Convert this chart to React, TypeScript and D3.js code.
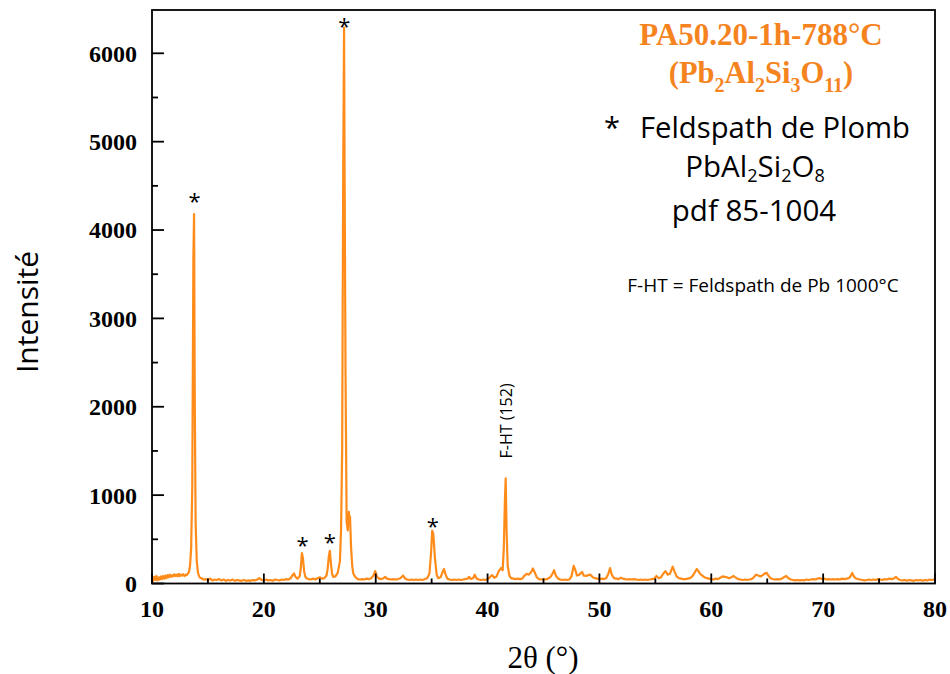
import React from "react";
import * as d3 from "d3";

const twoTheta: number[] = [
  10.0, 10.1, 10.2, 10.3, 10.4, 10.5, 10.6, 10.7, 10.8, 10.9, 11.0, 11.1, 11.2, 11.3, 11.4, 11.5, 11.6, 11.7, 11.8, 11.9,
  12.0, 12.1, 12.2, 12.3, 12.4, 12.5, 12.6, 12.7, 12.8, 12.9, 13.0, 13.1, 13.2, 13.3, 13.4, 13.5, 13.6, 13.7, 13.76, 13.82,
  13.9, 14.0, 14.1, 14.2, 14.3, 14.5, 14.6, 14.8, 15.0, 15.2, 15.4, 15.6, 15.8, 16.0, 16.2, 16.4, 16.6, 16.8, 17.0, 17.2,
  17.4, 17.6, 17.8, 18.0, 18.2, 18.4, 18.6, 18.8, 19.0, 19.2, 19.4, 19.6, 19.8, 20.0, 20.2, 20.4, 20.6, 20.8, 21.0, 21.2,
  21.4, 21.6, 21.8, 22.0, 22.2, 22.4, 22.6, 22.7, 22.8, 23.0, 23.2, 23.3, 23.4, 23.5, 23.6, 23.7, 23.8, 24.0, 24.2, 24.4,
  24.6, 24.8, 25.0, 25.2, 25.4, 25.6, 25.7, 25.8, 25.9, 26.0, 26.1, 26.2, 26.4, 26.6, 26.8, 26.9, 27.0, 27.05, 27.1, 27.17,
  27.22, 27.3, 27.4, 27.5, 27.6, 27.65, 27.7, 27.8, 27.9, 28.0, 28.2, 28.4, 28.6, 28.8, 29.0, 29.2, 29.4, 29.6, 29.8, 29.95,
  30.1, 30.3, 30.5, 30.7, 30.85, 31.0, 31.2, 31.4, 31.6, 31.8, 32.0, 32.2, 32.45, 32.6, 32.8, 33.0, 33.2, 33.4, 33.6, 33.8,
  34.0, 34.2, 34.4, 34.6, 34.8, 34.95, 35.05, 35.15, 35.3, 35.45, 35.6, 35.8, 35.95, 36.1, 36.25, 36.4, 36.6, 36.8, 37.0, 37.2,
  37.4, 37.6, 37.8, 38.0, 38.2, 38.35, 38.5, 38.7, 38.85, 39.0, 39.2, 39.4, 39.6, 39.8, 40.0, 40.2, 40.4, 40.6, 40.8, 41.0,
  41.2, 41.35, 41.45, 41.55, 41.62, 41.7, 41.8, 41.95, 42.1, 42.3, 42.5, 42.7, 42.9, 43.1, 43.3, 43.5, 43.7, 43.9, 44.05, 44.2,
  44.4, 44.6, 44.8, 45.0, 45.2, 45.4, 45.6, 45.8, 45.95, 46.1, 46.3, 46.5, 46.7, 46.9, 47.1, 47.3, 47.5, 47.7, 47.85, 48.0,
  48.2, 48.45, 48.6, 48.8, 49.0, 49.2, 49.4, 49.6, 49.8, 50.0, 50.2, 50.4, 50.6, 50.8, 50.95, 51.1, 51.3, 51.5, 51.7, 51.9,
  52.1, 52.3, 52.5, 52.7, 52.9, 53.1, 53.3, 53.5, 53.7, 53.9, 54.1, 54.3, 54.5, 54.7, 54.9, 55.1, 55.3, 55.5, 55.7, 55.9,
  56.1, 56.3, 56.55, 56.7, 56.9, 57.1, 57.3, 57.5, 57.7, 57.9, 58.1, 58.3, 58.5, 58.7, 58.85, 59.0, 59.2, 59.4, 59.6, 59.8,
  60.0, 60.2, 60.4, 60.6, 60.8, 61.0, 61.2, 61.4, 61.6, 61.8, 62.0, 62.2, 62.4, 62.6, 62.8, 63.0, 63.2, 63.4, 63.6, 63.8,
  64.0, 64.2, 64.4, 64.6, 64.8, 64.95, 65.1, 65.3, 65.5, 65.7, 65.9, 66.1, 66.3, 66.5, 66.7, 66.9, 67.1, 67.3, 67.5, 67.7,
  67.9, 68.1, 68.3, 68.5, 68.7, 68.9, 69.1, 69.3, 69.5, 69.7, 69.9, 70.1, 70.3, 70.5, 70.7, 70.9, 71.1, 71.3, 71.5, 71.7,
  71.9, 72.1, 72.3, 72.5, 72.6, 72.75, 72.9, 73.1, 73.3, 73.5, 73.7, 73.9, 74.1, 74.3, 74.5, 74.7, 74.9, 75.1, 75.3, 75.5,
  75.7, 75.9, 76.1, 76.3, 76.5, 76.7, 76.9, 77.1, 77.3, 77.5, 77.7, 77.9, 78.1, 78.3, 78.5, 78.7, 78.9, 79.1, 79.3, 79.5,
  79.7, 79.9, 80.0,
];

const intensity: number[] = [
  60, 30, 75, 40, 85, 35, 70, 45, 80, 50, 85, 55, 90, 60, 95, 70, 100, 75, 95, 80,
  105, 85, 100, 80, 110, 85, 100, 90, 105, 85, 100, 95, 110, 130, 200, 400, 1100, 3680, 4180, 2150,
  690, 260, 130, 85, 65, 55, 45, 50, 40, 55, 35, 45, 40, 50, 35, 45, 30, 40, 35, 45,
  30, 40, 35, 30, 40, 30, 35, 30, 40, 35, 45, 60, 40, 35, 45, 35, 40, 30, 45, 40,
  35, 45, 40, 50, 45, 60, 100, 115, 80, 55, 80, 170, 345, 280, 140, 80, 60, 50, 45, 55,
  45, 60, 70, 55, 60, 90, 160, 300, 370, 220, 110, 75, 80, 120, 250, 600, 1500, 3210, 4790, 6290,
  4600, 2400, 700, 600, 810, 700, 760, 400, 200, 110, 70, 50, 45, 50, 45, 55, 50, 60, 90, 140,
  80, 55, 50, 60, 75, 55, 50, 45, 50, 45, 50, 60, 90, 60, 45, 40, 45, 40, 45, 40,
  45, 40, 50, 60, 110, 350, 600, 560, 280, 100, 60, 70, 120, 165, 100, 55, 45, 40, 45, 40,
  45, 40, 45, 50, 55, 75, 50, 60, 100, 60, 45, 40, 45, 40, 50, 70, 95, 65, 80, 140,
  175, 150, 400, 945, 1190, 600, 200, 90, 60, 55, 50, 55, 50, 55, 90, 110, 100, 130, 170, 130,
  70, 50, 45, 50, 45, 55, 70, 110, 150, 90, 55, 45, 40, 45, 40, 45, 80, 200, 150, 90,
  100, 130, 90, 85, 95, 100, 70, 60, 55, 50, 55, 50, 60, 110, 175, 100, 60, 55, 50, 65,
  55, 50, 45, 50, 45, 50, 45, 40, 45, 40, 45, 40, 45, 50, 55, 85, 60, 70, 110, 140,
  100, 110, 190, 140, 80, 60, 55, 50, 50, 55, 60, 80, 120, 165, 140, 110, 90, 70, 60, 55,
  50, 45, 55, 50, 65, 80, 75, 70, 60, 70, 85, 65, 50, 45, 40, 45, 40, 45, 50, 70,
  100, 90, 80, 95, 115, 120, 90, 60, 50, 45, 50, 45, 55, 70, 85, 60, 45, 40, 35, 40,
  35, 40, 35, 45, 40, 45, 50, 45, 55, 60, 50, 55, 45, 50, 45, 50, 45, 50, 45, 55,
  50, 55, 60, 90, 120, 80, 60, 50, 45, 40, 35, 40, 45, 40, 45, 40, 50, 45, 40, 50,
  45, 55, 50, 55, 75, 50, 40, 35, 40, 30, 40, 35, 30, 40, 35, 40, 30, 40, 35, 45,
  40, 45, 40,
];

const xTicks: number[] = [10, 20, 30, 40, 50, 60, 70, 80];
const xMinorTicks: number[] = [15, 25, 35, 45, 55, 65, 75];
const yTicks: number[] = [0, 1000, 2000, 3000, 4000, 5000, 6000];
const yMinorTicks: number[] = [500, 1500, 2500, 3500, 4500, 5500];

// asterisk markers: [2θ, intensity level]
const starX: number[] = [13.8, 27.2, 23.45, 25.9, 35.1];
const starY: number[] = [4374, 6354, 481, 515, 696];

const fhtLabel = { x: 41.55, y: 1840, text: "F-HT (152)" };

const ORANGE = "#FF8C1A";
const TITLE_ORANGE = "#F5841F";

export default function App() {
  const W = 950;
  const H = 674;
  const left = 152, right = 935, top = 10, bottom = 583.5;
  const x = d3.scaleLinear().domain([10, 80]).range([left, right]);
  const y = d3.scaleLinear().domain([0, 6490]).range([bottom, top]);

  const pts: [number, number][] = twoTheta.map((t, i) => [t, intensity[i]]);
  const line = d3
    .line<[number, number]>()
    .x((d) => x(d[0]))
    .y((d) => y(d[1]));

  const serif = "'Liberation Serif', 'Times New Roman', serif";
  const sans = "'Open Sans', 'Liberation Sans', sans-serif";

  return (
    <svg width={W} height={H} style={{ position: "absolute", left: 0, top: 0, background: "#fff" }}>
      <rect x={0} y={0} width={W} height={H} fill="#fff" />
      {/* data */}
      <path d={line(pts) || ""} fill="none" stroke={ORANGE} strokeWidth={2.2} strokeLinejoin="round" />

      {/* frame */}
      <rect x={left} y={top} width={right - left} height={bottom - top} fill="none" stroke="#000" strokeWidth={1.8} />

      {/* y ticks */}
      {yTicks.map((v) => (
        <g key={"y" + v}>
          <line x1={left} x2={left + 12} y1={y(v)} y2={y(v)} stroke="#000" strokeWidth={1.8} />
          <text
            x={137}
            y={y(v)}
            dy="0.35em"
            textAnchor="end"
            fontFamily={serif}
            fontWeight="bold"
            fontSize={24}
          >
            {v}
          </text>
        </g>
      ))}
      {yMinorTicks.map((v) => (
        <line key={"ym" + v} x1={left} x2={left + 6} y1={y(v)} y2={y(v)} stroke="#000" strokeWidth={1.8} />
      ))}

      {/* x ticks */}
      {xTicks.map((v) => (
        <g key={"x" + v}>
          <line x1={x(v)} x2={x(v)} y1={bottom} y2={bottom - 10} stroke="#000" strokeWidth={1.8} />
          <text
            x={x(v)}
            y={617}
            textAnchor="middle"
            fontFamily={serif}
            fontWeight="bold"
            fontSize={24}
          >
            {v}
          </text>
        </g>
      ))}
      {xMinorTicks.map((v) => (
        <line key={"xm" + v} x1={x(v)} x2={x(v)} y1={bottom} y2={bottom - 5} stroke="#000" strokeWidth={1.8} />
      ))}

      {/* axis titles */}
      <text x={543} y={668} textAnchor="middle" fontFamily={serif} fontSize={31}>
        2θ (°)
      </text>
      <text
        transform={`translate(38, 312) rotate(-90)`}
        textAnchor="middle"
        fontFamily={sans}
        fontSize={30}
      >
        Intensité
      </text>

      {/* asterisks */}
      {starX.map((sx, i) => (
        <text
          key={"s" + i}
          x={x(sx)}
          y={y(starY[i]) + 12}
          textAnchor="middle"
          fontFamily={sans}
          fontSize={22}
        >
          *
        </text>
      ))}

      {/* F-HT label */}
      <text
        transform={`translate(${x(fhtLabel.x) + 1}, ${y(fhtLabel.y)}) rotate(-90)`}
        textAnchor="middle"
        dy="0.35em"
        fontFamily={sans}
        fontSize={16}
      >
        {fhtLabel.text}
      </text>

      {/* title */}
      <text x={761} y={45} textAnchor="middle" fontFamily={serif} fontWeight="bold" fontSize={31} fill={TITLE_ORANGE}>
        PA50.20-1h-788°C
      </text>
      <text x={761} y={83} textAnchor="middle" fontFamily={serif} fontWeight="bold" fontSize={30.5} fill={TITLE_ORANGE}>
        (Pb<tspan fontSize={20} dy={9}>2</tspan>
        <tspan dy={-9}>Al</tspan>
        <tspan fontSize={20} dy={9}>2</tspan>
        <tspan dy={-9}>Si</tspan>
        <tspan fontSize={20} dy={9}>3</tspan>
        <tspan dy={-9}>O</tspan>
        <tspan fontSize={20} dy={9}>11</tspan>
        <tspan dy={-9}>)</tspan>
      </text>

      {/* legend texts */}
      <text x={612} y={138} textAnchor="middle" fontFamily={sans} fontSize={29}>
        *
      </text>
      <text x={640} y={138} textAnchor="start" fontFamily={sans} fontSize={29} textLength={270} lengthAdjust="spacingAndGlyphs">
        Feldspath de Plomb
      </text>
      <text x={755} y={177} textAnchor="middle" fontFamily={sans} fontSize={29.5}>
        PbAl<tspan fontSize={18} dy={5}>2</tspan>
        <tspan dy={-5}>Si</tspan>
        <tspan fontSize={18} dy={5}>2</tspan>
        <tspan dy={-5}>O</tspan>
        <tspan fontSize={18} dy={5}>8</tspan>
      </text>
      <text x={754} y={221} textAnchor="middle" fontFamily={sans} fontSize={29.5}>
        pdf 85-1004
      </text>
      <text x={763} y={292} textAnchor="middle" fontFamily={sans} fontSize={19}>
        F-HT = Feldspath de Pb 1000°C
      </text>
    </svg>
  );
}
